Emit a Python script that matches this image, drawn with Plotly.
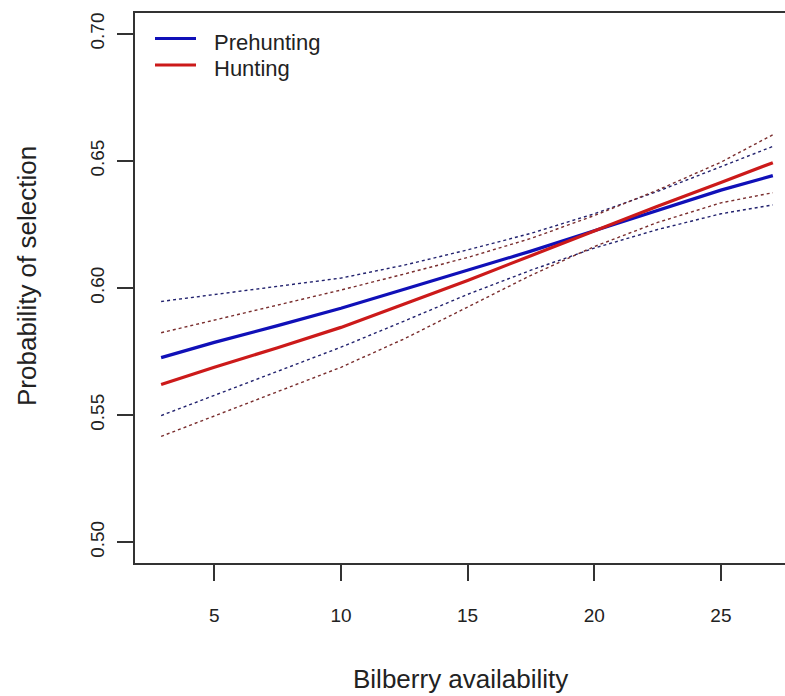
import plotly.graph_objects as go

# Bilberry availability (x) at which the curves were read
bilberry = [2.9, 5, 7.5, 10, 12.5, 15, 17.5, 20, 22.5, 25, 27.05]

# Prehunting: fitted probability and confidence bounds
pre_fit = [0.5726, 0.5786, 0.5852, 0.5920, 0.5995, 0.6070, 0.6145, 0.6225, 0.6305, 0.6385, 0.6442]
pre_upper = [0.5947, 0.5974, 0.6006, 0.6039, 0.6090, 0.6150, 0.6215, 0.6292, 0.6380, 0.6478, 0.6557]
pre_lower = [0.5498, 0.5577, 0.5672, 0.5767, 0.5870, 0.5975, 0.6070, 0.6157, 0.6230, 0.6292, 0.6327]

# Hunting: fitted probability and confidence bounds
hunt_fit = [0.5620, 0.5688, 0.5765, 0.5845, 0.5937, 0.6030, 0.6127, 0.6225, 0.6322, 0.6415, 0.6493]
hunt_upper = [0.5824, 0.5874, 0.5933, 0.5992, 0.6055, 0.6120, 0.6195, 0.6285, 0.6385, 0.6495, 0.6603]
hunt_lower = [0.5416, 0.5496, 0.5592, 0.5688, 0.5800, 0.5925, 0.6050, 0.6163, 0.6258, 0.6335, 0.6375]

legend_names = ["Prehunting", "Hunting"]
x_ticks = [5, 10, 15, 20, 25]
y_ticks = [0.50, 0.55, 0.60, 0.65, 0.70]
y_tick_text = ["0.50", "0.55", "0.60", "0.65", "0.70"]

BLUE = "#1010b8"
RED = "#cc1a1a"
BLUE_D = "#22226e"
RED_D = "#7a2e2e"
FONT = "Liberation Sans, Arial, sans-serif"
TXT = "#222"

fig = go.Figure()
for ys, col in [(pre_upper, BLUE_D), (pre_lower, BLUE_D), (hunt_upper, RED_D), (hunt_lower, RED_D)]:
    fig.add_trace(go.Scatter(x=bilberry, y=ys, mode="lines", showlegend=False,
                             line=dict(color=col, width=1.4, dash="3px,3px")))
fig.add_trace(go.Scatter(x=bilberry, y=pre_fit, mode="lines", name=legend_names[0], showlegend=False,
                         line=dict(color=BLUE, width=3.2)))
fig.add_trace(go.Scatter(x=bilberry, y=hunt_fit, mode="lines", name=legend_names[1], showlegend=False,
                         line=dict(color=RED, width=3.2)))

# manual legend (top-left, no box)
shapes = []
annotations = []
for i, (name, col) in enumerate(zip(legend_names, [BLUE, RED])):
    ypx = 38.5 + 26.5 * i  # pixel row from top of figure
    yp = 1 - (ypx - 13) / 550
    shapes.append(dict(type="line", xref="paper", yref="paper", x0=20 / 650, x1=61 / 650,
                       y0=yp, y1=yp, line=dict(color=col, width=3.2)))
    annotations.append(dict(text=name, xref="paper", yref="paper", x=77 / 650, y=yp,
                            xanchor="left", yanchor="middle", yshift=-4, showarrow=False,
                            font=dict(size=22, family=FONT, color=TXT)))

annotations += [
    dict(text="Bilberry availability", xref="paper", yref="paper", x=0.5, y=0,
         xanchor="center", yanchor="middle", yshift=-116, showarrow=False,
         font=dict(size=26, family=FONT, color=TXT)),
    dict(text="Probability of selection", xref="paper", yref="paper", x=0, y=0.5,
         xanchor="center", yanchor="middle", xshift=-108, yshift=12, textangle=-90,
         showarrow=False, font=dict(size=26, family=FONT, color=TXT)),
]

fig.update_layout(
    width=785, height=696,
    margin=dict(l=135, r=0, t=13, b=133),
    paper_bgcolor="white", plot_bgcolor="white",
    font=dict(family=FONT, color=TXT),
    showlegend=False,
    xaxis=dict(range=[1.869, 27.53], tickvals=x_ticks, ticks="outside", ticklen=16,
               tickwidth=1.5, tickcolor="#333", showline=True, linecolor="#333", linewidth=1.5,
               mirror=True, showgrid=False, zeroline=False,
               tickfont=dict(size=19, family=FONT, color=TXT), ticklabelstandoff=18),
    yaxis=dict(range=[0.4918, 0.7082], tickvals=y_ticks, ticktext=y_tick_text, ticks="outside",
               ticklen=16, tickwidth=1.5, tickcolor="#333", showline=True, linecolor="#333",
               linewidth=1.5, mirror=False, showgrid=False, zeroline=False, tickangle=-90,
               tickfont=dict(size=19, family=FONT, color=TXT), ticklabelstandoff=6),
    shapes=shapes,
    annotations=annotations,
)
fig.write_html("out.html")
